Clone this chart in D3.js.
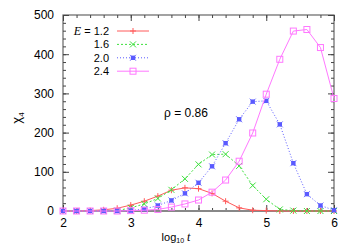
<!DOCTYPE html>
<html>
<head>
<meta charset="utf-8">
<script src="https://cdn.jsdelivr.net/npm/d3@7"></script>
<style>
  body { margin: 0; background: #fff; }
  svg { font-family: "Liberation Sans", Arial, sans-serif; }
</style>
</head>
<body>
<svg width="354" height="248"></svg>
<script>
// log10 t sample points
const logT = [2.0, 2.2, 2.4, 2.6, 2.8, 3.0, 3.2, 3.4, 3.6, 3.8, 4.0,
              4.2, 4.4, 4.6, 4.8, 5.0, 5.2, 5.4, 5.6, 5.8, 6.0];

// chi_4 values per E
const chiE12 = [0, 0, 1, 3, 7, 15, 25, 38, 53, 59, 57, 45, 25, 8, 2, 1, 0, 0, 0, 0, 0];
const chiE16 = [0, 0, 0, 0, 1, 8, 18, 32, 54, 82, 119, 144, 145, 115, 65, 30, 4, 1, 0, 0, 0];
const chiE20 = [0, 0, 0, 0, 0, 1, 5, 14, 27, 45, 72, 114, 173, 234, 279, 281, 221, 122, 43, 14, 2];
const chiE24 = [0, 0, 0, 0, 0, 1, 2, 4, 10, 18, 28, 48, 79, 127, 199, 298, 387, 459, 463, 417, 287];

const labels = ["1.2", "1.6", "2.0", "2.4"];
const xTicks = [2, 3, 4, 5, 6];
const yTicks = [0, 100, 200, 300, 400, 500];

const margin = { top: 15, right: 20, bottom: 37, left: 63 },
    width = 354 - margin.left - margin.right,
    height = 248 - margin.top - margin.bottom;

const x = d3.scaleLinear().domain([2, 6]).range([0, width]);
const y = d3.scaleLinear().domain([0, 500]).range([height, 0]);

const svg = d3.select("svg");
const g = svg.append("g")
    .attr("transform", "translate(" + margin.left + "," + margin.top + ")");

// series styles
const series = [
    { vals: chiE12, color: "#ff5a5a", dash: null, mark: "plus" },
    { vals: chiE16, color: "#3ee03e", dash: "2,2", mark: "cross" },
    { vals: chiE20, color: "#5a5aff", dash: "1,2", mark: "star" },
    { vals: chiE24, color: "#ff78ff", dash: null, mark: "box" }
];

// frame
g.append("rect")
    .attr("width", width).attr("height", height)
    .attr("fill", "none").attr("stroke", "#666").attr("stroke-width", 1.2);

// ticks (inward, mirrored)
function tickGroup(axis, transform) {
    const a = g.append("g").attr("transform", transform).call(axis);
    a.select(".domain").remove();
    a.selectAll("line").attr("stroke", "#444");
    return a;
}
const xMinor = d3.range(2, 6.01, 0.2);
const yMinor = d3.range(0, 501, 20);
tickGroup(d3.axisBottom(x).tickValues(xMinor).tickSize(-3).tickFormat(""), "translate(0," + height + ")");
tickGroup(d3.axisTop(x).tickValues(xMinor).tickSize(-3).tickFormat(""), "translate(0,0)");
tickGroup(d3.axisLeft(y).tickValues(yMinor).tickSize(-3).tickFormat(""), "translate(0,0)");
tickGroup(d3.axisRight(y).tickValues(yMinor).tickSize(-3).tickFormat(""), "translate(" + width + ",0)");

const xAx = tickGroup(d3.axisBottom(x).tickValues(xTicks).tickSize(-6).tickPadding(7).tickFormat(d3.format("d")), "translate(0," + height + ")");
tickGroup(d3.axisTop(x).tickValues(xTicks).tickSize(-6).tickFormat(""), "translate(0,0)");
const yAx = tickGroup(d3.axisLeft(y).tickValues(yTicks).tickSize(-6).tickPadding(9).tickFormat(d3.format("d")), "translate(0,0)");
tickGroup(d3.axisRight(y).tickValues(yTicks).tickSize(-6).tickFormat(""), "translate(" + width + ",0)");
[xAx, yAx].forEach(a => a.selectAll("text").attr("font-size", 12).attr("fill", "#000")
    .attr("font-family", "Liberation Sans, Arial, sans-serif"));

// zero line
g.append("line")
    .attr("x1", 0).attr("x2", width).attr("y1", y(0)).attr("y2", y(0))
    .attr("stroke", "#888").attr("stroke-width", 2);

// marker drawing
function marker(sel, type, color, cx, cy) {
    const s = 3;
    if (type === "plus") {
        sel.append("path").attr("d", `M${cx - s},${cy}H${cx + s}M${cx},${cy - s}V${cy + s}`)
            .attr("stroke", color).attr("stroke-width", 1);
    } else if (type === "cross") {
        sel.append("path").attr("d", `M${cx - s},${cy - s}L${cx + s},${cy + s}M${cx - s},${cy + s}L${cx + s},${cy - s}`)
            .attr("stroke", color).attr("stroke-width", 1);
    } else if (type === "star") {
        sel.append("rect").attr("x", cx - 2.2).attr("y", cy - 2.2).attr("width", 4.4).attr("height", 4.4)
            .attr("fill", color);
        sel.append("path").attr("d", `M${cx - s},${cy - s}L${cx + s},${cy + s}M${cx - s},${cy + s}L${cx + s},${cy - s}`)
            .attr("stroke", color).attr("stroke-width", 0.8);
    } else {
        sel.append("rect").attr("x", cx - 3).attr("y", cy - 3).attr("width", 6).attr("height", 6)
            .attr("fill", "none").attr("stroke", color).attr("stroke-width", 1);
    }
}

const line = d3.line().x((d, i) => x(logT[i])).y(d => y(d));

series.forEach(s => {
    g.append("path")
        .datum(s.vals)
        .attr("d", line)
        .attr("fill", "none")
        .attr("stroke", s.color)
        .attr("stroke-width", 1)
        .attr("stroke-dasharray", s.dash);
    const mg = g.append("g");
    s.vals.forEach((v, i) => marker(mg, s.mark, s.color, x(logT[i]), y(v)));
});

// legend
const legX1 = 117 - margin.left, legX2 = 149 - margin.left;
series.forEach((s, i) => {
    const ly = 31 - margin.top + i * 13.4;
    g.append("line").attr("x1", legX1).attr("x2", legX2).attr("y1", ly).attr("y2", ly)
        .attr("stroke", s.color).attr("stroke-width", 1).attr("stroke-dasharray", s.dash);
    marker(g, s.mark, s.color, (legX1 + legX2) / 2, ly);
    const t = g.append("text").attr("x", 109 - margin.left).attr("y", ly + 4)
        .attr("text-anchor", "end").attr("font-size", 11);
    if (i === 0) {
        t.append("tspan").attr("font-family", "Liberation Serif, serif").attr("font-style", "italic")
            .attr("font-size", 12).text("E");
        t.append("tspan").text(" = " + labels[i]);
    } else {
        t.text(labels[i]);
    }
});

// rho annotation
g.append("text").attr("x", 164 - margin.left).attr("y", 117 - margin.top)
    .attr("font-size", 12).text("ρ = 0.86");

// axis labels
const yl = svg.append("text")
    .attr("transform", "translate(21,118) rotate(-90)")
    .attr("text-anchor", "middle").attr("font-size", 13);
yl.append("tspan").text("χ");
yl.append("tspan").attr("font-size", 8).attr("dy", 3).text("4");

const xl = svg.append("text").attr("x", 176).attr("y", 241)
    .attr("text-anchor", "middle").attr("font-size", 11);
xl.append("tspan").text("log");
xl.append("tspan").attr("font-size", 7).attr("dy", 2).text("10");
xl.append("tspan").attr("dy", -2).attr("font-family", "Liberation Serif, serif")
    .attr("font-style", "italic").attr("font-size", 12).text(" t");
</script>
</body>
</html>
